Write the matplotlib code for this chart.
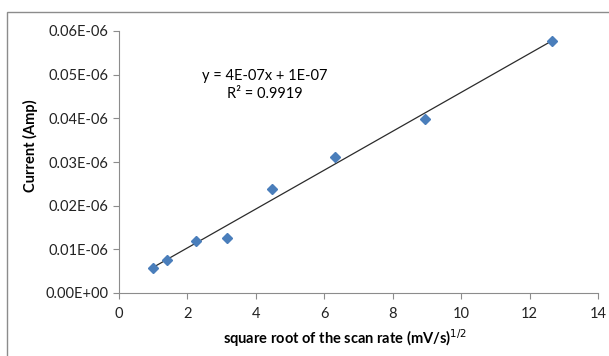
import numpy as np
import matplotlib
matplotlib.use("Agg")
import matplotlib.pyplot as plt
from matplotlib.patches import Rectangle

# sqrt of scan rate (mV/s)^1/2 and peak current (axis units as shown)
x_vals = [1.0, 1.414, 2.236, 3.162, 4.472, 6.325, 8.944, 12.649]
y_vals = [0.0058, 0.0075, 0.0120, 0.0126, 0.0238, 0.0311, 0.0399, 0.0577]
y_ticks = [0.0, 0.01, 0.02, 0.03, 0.04, 0.05, 0.06]
y_tick_labels = ["0.00E+00", "0.01E-06", "0.02E-06", "0.03E-06",
                 "0.04E-06", "0.05E-06", "0.06E-06"]
x_ticks = [0, 2, 4, 6, 8, 10, 12, 14]
eq_text = "y = 4E-07x + 1E-07\nR\u00b2 = 0.9919"

plt.rcParams['font.family'] = ['Lato', 'DejaVu Sans']

fig = plt.figure(figsize=(6.09, 3.56), dpi=100)
W, H = 609, 356
ax = fig.add_axes([119 / W, 1 - 293 / H, (598 - 119) / W, (293 - 31) / H])

# outer chart frame (runs off the right and bottom of the image)
fig.patches.append(Rectangle((7 / W, -0.05), 1.1, 1 - 12 / H + 0.05,
                             transform=fig.transFigure, fill=False,
                             edgecolor="#8c8c8c", linewidth=1.0))

x = np.array(x_vals)
y = np.array(y_vals)
ax.plot(x, y, linestyle="none", marker="D", markersize=5,
        color="#4a7ebb", zorder=3)

# linear trendline
m, b = np.polyfit(x, y, 1)
xl = np.array([x.min(), x.max()])
ax.plot(xl, m * xl + b, color="#2b2b2b", linewidth=0.9, zorder=2)

ax.set_xlim(0, 14)
ax.set_ylim(0, 0.06)
ax.set_xticks(x_ticks)
ax.set_yticks(y_ticks)
ax.set_yticklabels(y_tick_labels)
ax.tick_params(axis="both", direction="out", length=4, color="#8c8c8c",
               labelsize=10.5, labelcolor="#222222")
ax.tick_params(axis="x", pad=6)
for s in ["top", "right"]:
    ax.spines[s].set_visible(False)
for s in ["left", "bottom"]:
    ax.spines[s].set_color("#8c8c8c")

ax.set_xlabel("square root of the scan rate (mV/s)$^{1/2}$", fontsize=10.5,
              fontweight="bold")
ax.xaxis.set_label_coords((345 - 119) / (598 - 119), -(338 - 293) / (293 - 31))
ax.set_ylabel("Current (Amp)", fontsize=10.5, fontweight="bold")
ax.yaxis.set_label_coords(-(119 - 30) / (598 - 119), (293 - 146) / (293 - 31))
ax.xaxis.label.set_va("center")
ax.yaxis.label.set_va("center")

ax.text(265 / W, 1 - 85 / H, eq_text, transform=fig.transFigure,
        ha="center", va="center", fontsize=10.5, linespacing=1.45)

fig.savefig("out.png", dpi=100)
